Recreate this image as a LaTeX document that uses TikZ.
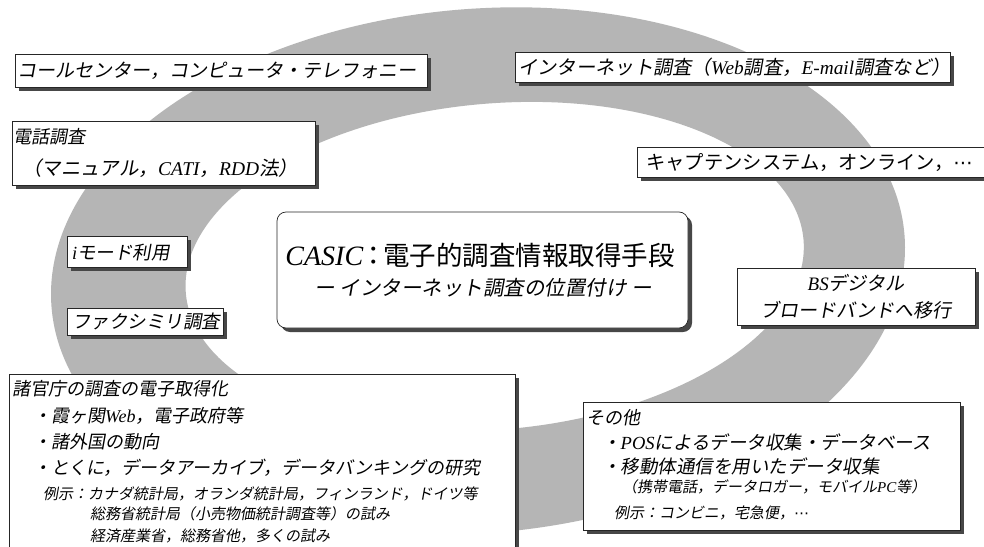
\documentclass[tikz,border=0pt]{standalone}
\usepackage{fontspec}
\setmainfont{Liberation Serif}
\newfontfamily\jpu{Noto Sans CJK JP}
\newfontfamily\jps{Noto Sans CJK JP}[FakeSlant=0.18]
\newfontfamily\djv{DejaVu Sans}
\newcommand\tms[1]{{\rmfamily\itshape #1}}
\newcommand\mdots{{\djv ⋯}}
\usetikzlibrary{shadows}
\definecolor{ringgray}{gray}{0.71}
\begin{document}
\begin{tikzpicture}[x=1pt,y=-1pt,
  sbox/.style={draw=black!85, line width=0.7pt, fill=white, inner sep=0pt, outer sep=0pt,
    drop shadow={shadow xshift=4pt, shadow yshift=-4pt, fill=black!72, opacity=1}},
  jtl/.style={inner sep=0pt, font=\jps\fontsize{19}{22}\selectfont},
  jtm/.style={inner sep=0pt, font=\jps\fontsize{18}{21}\selectfont},
  jts/.style={inner sep=0pt, font=\jps\fontsize{15}{18}\selectfont},
  jtu/.style={inner sep=0pt, font=\jpu\fontsize{19.3}{22}\selectfont}]
\useasboundingbox (0,0) rectangle (984,546);
\fill[white] (0,0) rectangle (984,546);
% ring
\begin{scope}[shift={(478,271)}, rotate=5]
\fill[ringgray, even odd rule] (0,0) ellipse [x radius=428, y radius=262]
  (17,-3) ellipse [x radius=310, y radius=163];
\end{scope}
% box 1
\node[sbox, minimum width=412, minimum height=33, anchor=north west] (callbox) at (15,54) {};
\node[jtl, anchor=base west] (calltxt) at (17,77.5) {コールセンター，コンピュータ・テレフォニー};
% box 2
\node[sbox, minimum width=303, minimum height=64, anchor=north west] (telbox) at (12,121) {};
\node[jtm, anchor=base west] (teltxta) at (13,143.8) {電話調査};
\node[jtm, anchor=base west, font=\jps\fontsize{19.5}{22}\selectfont] (teltxtb) at (22,175.5) {（マニュアル，\tms{CATI}，\tms{RDD}法）};
% box 3
\node[sbox, minimum width=435, minimum height=30, anchor=north west] (netbox) at (515,52) {};
\node[jtl, anchor=base west, font=\jps\fontsize{19.3}{22}\selectfont] (nettxt) at (518,74.5) {インターネット調査（\tms{Web}調査，\tms{E-mail}調査など）};
% box 4
\node[sbox, minimum width=360, minimum height=30, anchor=north west] (capbox) at (637,147) {};
\node[jtu, anchor=base west] (captxt) at (646,169) {キャプテンシステム，オンライン，\mdots};
% box 5
\node[sbox, minimum width=120, minimum height=31, anchor=north west] (imodebox) at (67,236) {};
\node[jtl, anchor=base west, font=\jps\fontsize{18.5}{22}\selectfont] (imodetxt) at (72,259) {\tms{i}モード利用};
% box 6
\node[sbox, minimum width=156, minimum height=27, anchor=north west] (faxbox) at (67,308) {};
\node[jtl, anchor=base west, font=\jps\fontsize{18.5}{22}\selectfont] (faxtxt) at (72,328.5) {ファクシミリ調査};
% center
\node[sbox, rounded corners=9pt, minimum width=411, minimum height=116, anchor=north west] (casic) at (277,212) {};
\node[inner sep=0pt, anchor=base, font=\jpu\fontsize{26.5}{30}\selectfont] (casict1) at (480,265) {{\fontsize{28}{30}\selectfont\tms{CASIC}}\hspace{-0.1em}：\hspace{-0.15em}電子的調査情報取得手段};
\node[inner sep=0pt, anchor=base, font=\jps\fontsize{20.5}{22}\selectfont] (casict2) at (483,295.6) {ー インターネット調査の位置付け ー};
% BS box
\node[sbox, minimum width=238, minimum height=57, anchor=north west] (bsbox) at (737,268) {};
\node[jtl, anchor=base] (bstxta) at (856,290) {\tms{BS}デジタル};
\node[jtl, anchor=base] (bstxtb) at (856,317) {ブロードバンドへ移行};
% bottom-left box
\node[sbox, minimum width=506, minimum height=190, anchor=north west] (govbox) at (9,374) {};
\node[jtm, anchor=base west] (gova) at (12,395.8) {諸官庁の調査の電子取得化};
\node[jtm, anchor=base west] (govb) at (33,422.8) {・霞ヶ関\tms{Web}，電子政府等};
\node[jtm, anchor=base west] (govc) at (33,448.8) {・諸外国の動向};
\node[jtm, anchor=base west] (govd) at (33,474.8) {・とくに，データアーカイブ，データバンキングの研究};
\node[jts, anchor=base west] (gove) at (43,499.7) {例示：カナダ統計局，オランダ統計局，フィンランド，ドイツ等};
\node[jts, anchor=base west] (govf) at (90,519.7) {総務省統計局（小売物価統計調査等）の試み};
\node[jts, anchor=base west] (govg) at (90,541.7) {経済産業省，総務省他，多くの試み};
% bottom-right box
\node[sbox, minimum width=377, minimum height=128, anchor=north west] (othbox) at (583,402) {};
\node[jtm, anchor=base west] (otha) at (586,424.8) {その他};
\node[jtm, anchor=base west, font=\jps\fontsize{18.5}{21}\selectfont] (othb) at (602,449.8) {・\tms{POS}によるデータ収集・データベース};
\node[jtm, anchor=base west, font=\jps\fontsize{18.5}{21}\selectfont] (othc) at (602,473.8) {・移動体通信を用いたデータ収集};
\node[jts, anchor=base west] (othd) at (622,492.8) {（携帯電話，データロガー，モバイル\tms{PC}等）};
\node[jts, anchor=base west] (othe) at (614,518.3) {例示：コンビニ，宅急便，\mdots};
\end{tikzpicture}
\end{document}
